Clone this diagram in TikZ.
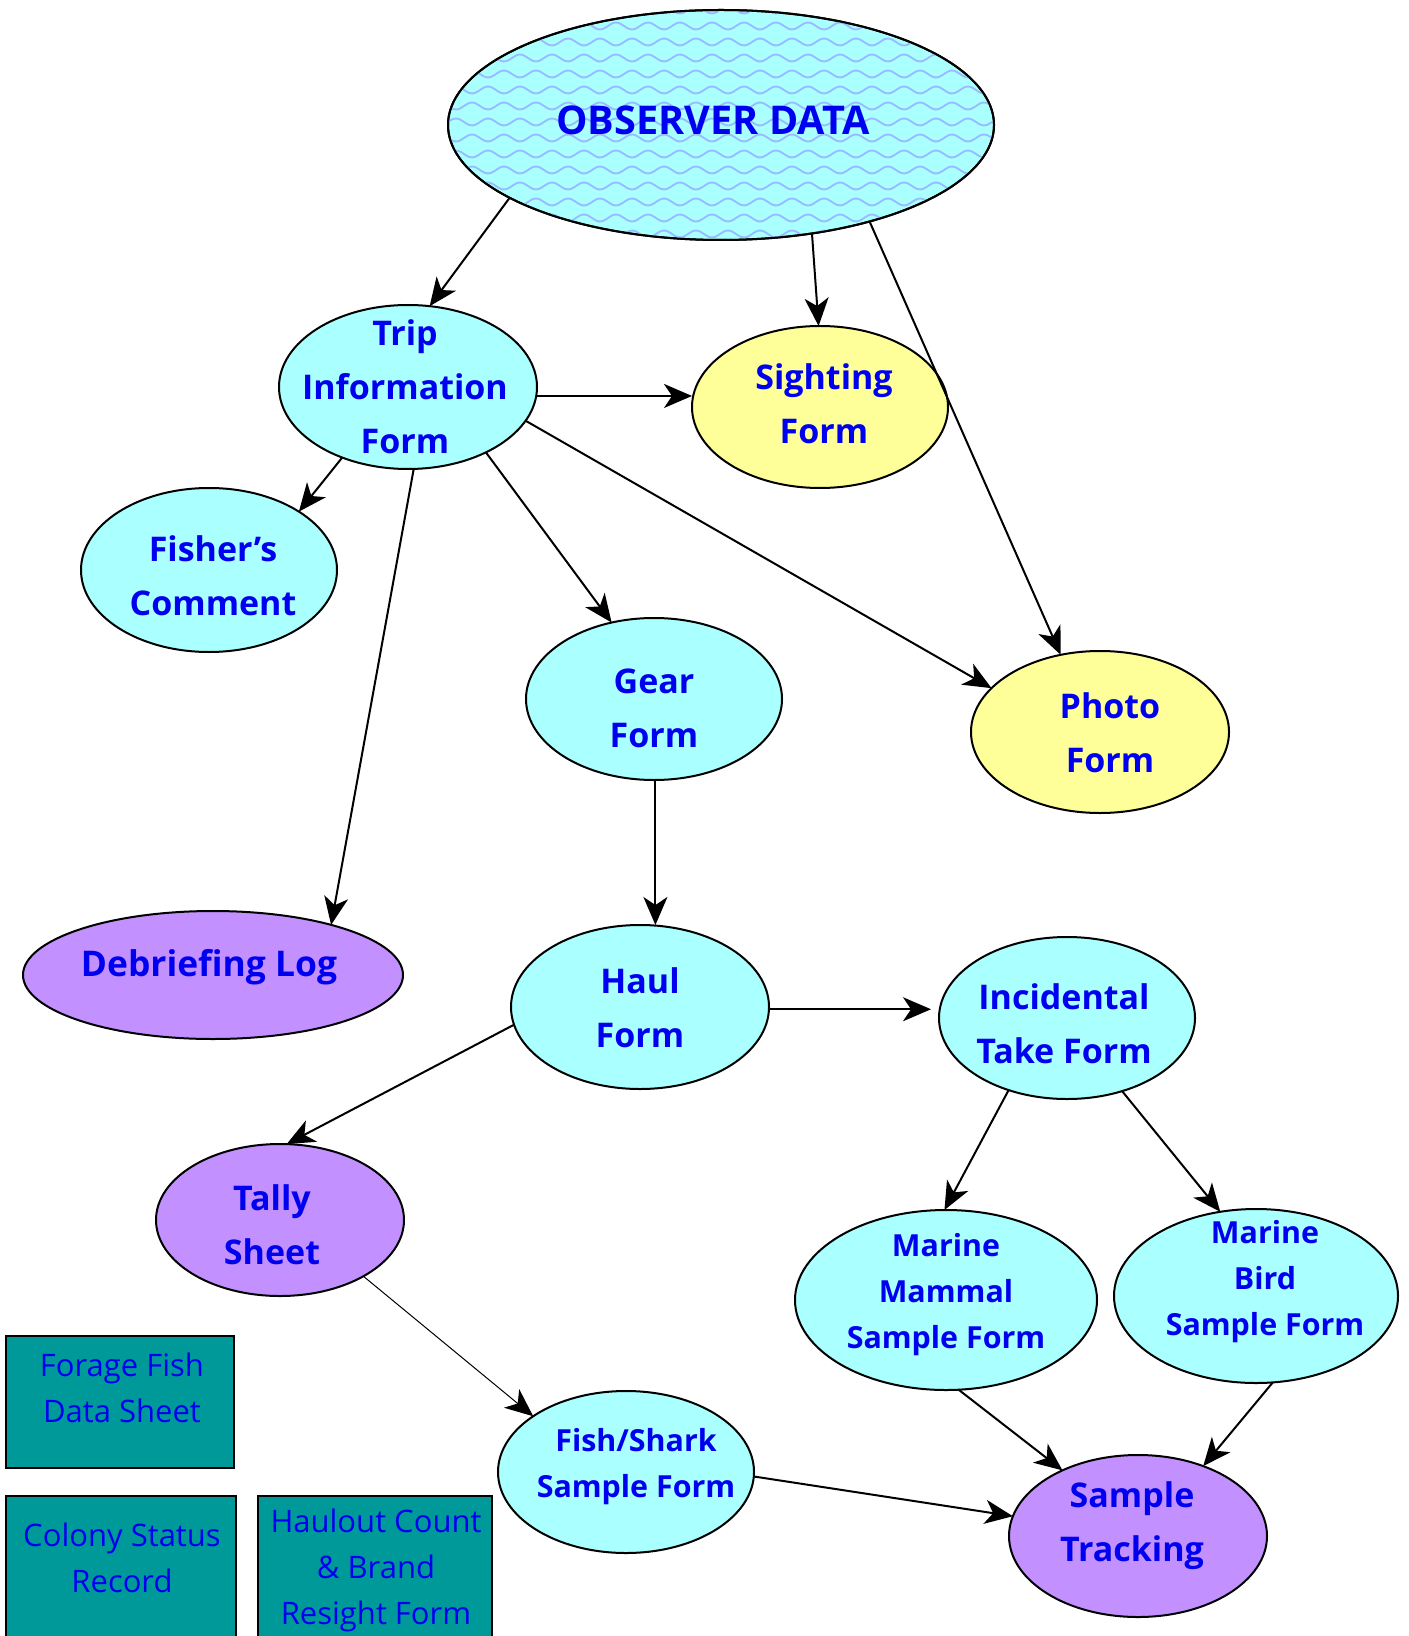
\documentclass[tikz,border=0pt]{standalone}
\usepackage{fontspec}
\setmainfont{Open Sans}
\usetikzlibrary{arrows.meta,shapes.geometric,calc}
\definecolor{txtblue}{RGB}{0,0,240}
\definecolor{cyanfill}{RGB}{170,255,255}
\definecolor{yelfill}{RGB}{255,255,153}
\definecolor{purfill}{RGB}{195,145,255}
\definecolor{tealfill}{RGB}{0,153,153}
\definecolor{wavecol}{RGB}{155,185,255}
\begin{document}
\begin{tikzpicture}[x=0.5pt,y=-0.5pt,
  oval/.style={ellipse, draw=black, line width=1pt, inner sep=0pt, outer sep=0pt},
  cy/.style={oval, fill=cyanfill},
  ye/.style={oval, fill=yelfill},
  pu/.style={oval, fill=purfill},
  lbl/.style={text=txtblue, font=\bfseries\fontsize{17}{27}\selectfont, align=center, inner sep=0pt},
  slbl/.style={lbl, font=\bfseries\fontsize{15.2}{23}\selectfont},
  boxlbl/.style={text=txtblue, font=\fontsize{15.5}{23}\selectfont, align=center, inner sep=0pt},
  card/.style={draw=black, line width=1.2pt, fill=tealfill, inner sep=0pt, outer sep=0pt, anchor=north west},
  conn/.style={line width=1pt, -{Stealth[length=14pt,width=12pt,inset=4pt]}},
  thinconn/.style={line width=0.5pt, -{Stealth[length=14pt,width=12pt,inset=4pt]}},
]
\fill[white] (0,0) rectangle (1408,1636);
\useasboundingbox (0,0) rectangle (1408,1636);

% main node
\node[cy, minimum width=273pt, minimum height=115pt] (obs) at (721,125) {};
\begin{scope}
  \clip (721,125) ellipse [x radius=273, y radius=115];
  \foreach \k in {0,...,15} {
    \pgfmathsetmacro\yy{10+\k*16}
    \pgfmathsetmacro\ph{mod(\k,2)*180}
    \draw[wavecol, line width=0.9pt] plot[domain=448:995, samples=200, smooth] (\x, {\yy + 3.5*sin(\x*11.25+\ph)});
  }
\end{scope}
\draw[line width=1pt] (obs.center) ellipse [x radius=273, y radius=115];
\node[lbl, font=\bfseries\fontsize{19.8}{27}\selectfont] (obsT) at (713,120) {OBSERVER DATA};

% ellipses
\node[cy, minimum width=129pt, minimum height=82pt] (trip) at (408,387) {};
\node[ye, minimum width=128pt, minimum height=81pt] (sight) at (820,407) {};
\node[cy, minimum width=128pt, minimum height=82pt] (fisher) at (209,570) {};
\node[cy, minimum width=128pt, minimum height=81pt] (gear) at (654,699) {};
\node[ye, minimum width=129pt, minimum height=81pt] (photo) at (1100,732) {};
\node[pu, minimum width=190pt, minimum height=64pt] (debrief) at (213,975) {};
\node[cy, minimum width=129pt, minimum height=82pt] (haul) at (640,1007) {};
\node[cy, minimum width=128pt, minimum height=81pt] (inc) at (1067,1018) {};
\node[pu, minimum width=124pt, minimum height=76pt] (tally) at (280,1220) {};
\node[cy, minimum width=151pt, minimum height=90pt] (mammal) at (946,1300) {};
\node[cy, minimum width=142pt, minimum height=87pt] (bird) at (1256,1296) {};
\node[cy, minimum width=128pt, minimum height=81pt] (fish) at (626,1472) {};
\node[pu, minimum width=129pt, minimum height=81pt] (track) at (1138,1536) {};

% labels
\node[lbl] (tripT) at (405,387) {Trip\\Information\\Form};
\node[lbl] (sightT) at (824,404) {Sighting\\Form};
\node[lbl] (fisherT) at (213,576) {Fisher’s\\Comment};
\node[lbl] (gearT) at (654,708) {Gear\\Form};
\node[lbl] (photoT) at (1110,733) {Photo\\Form};
\node[lbl, font=\bfseries\fontsize{17.7}{27}\selectfont] (debriefT) at (209,967) {Debriefing Log};
\node[lbl] (haulT) at (640,1008) {Haul\\Form};
\node[lbl] (incT) at (1064,1024) {Incidental\\Take Form};
\node[lbl] (tallyT) at (272,1225) {Tally\\Sheet};
\node[slbl] (mammalT) at (946,1295) {Marine\\Mammal\\Sample Form};
\node[slbl] (birdT) at (1265,1282) {Marine\\Bird\\Sample Form};
\node[slbl] (fishT) at (636,1467) {Fish/Shark\\Sample Form};
\node[lbl] (trackT) at (1132,1526) {Sample\\Tracking};

% boxes
\node[card, minimum width=114pt, minimum height=66pt] (forage) at (6,1336) {};
\node[boxlbl] (forageT) at (122,1388) {Forage Fish\\Data Sheet};
\node[card, minimum width=115pt, minimum height=73pt] (colony) at (6,1496) {};
\node[boxlbl] (colonyT) at (122,1558) {Colony Status\\Record};
\node[card, minimum width=117pt, minimum height=73pt] (haulout) at (258,1496) {};
\node[boxlbl] (hauloutT) at (376,1570) {Haulout Count\\\& Brand\\Resight Form};

% connectors
\draw[conn] (obs.199) -- (trip.75);
\draw[conn] (obs.-50) -- (sight.91);
\draw[conn] (obs.-33) -- (photo.117);
\draw[conn] (trip.-4) -- (trip.-4 -| sight.west);
\draw[conn] (trip.-133) -- (fisher.33);
\draw[conn] (trip.-40) -- (gear.119);
\draw[conn] (trip.-16) -- (photo.158);
\draw[conn] (trip.-86) -- (debrief.23);
\draw[conn] (gear.-89) -- (gear.-89 |- haul.north);
\draw[conn] (haul.-1) -- ($(haul.-1 -| inc.west)+(-8,0)$);
\draw[conn] (haul.188) -- (tally.85);
\draw[conn] (inc.231) -- (mammal.91);
\draw[conn] (inc.-53) -- (bird.113);
\draw[thinconn] (tally.-34) -- (fish.149);
\draw[conn] (fish.-2) -- (track.171);
\draw[conn] (mammal.-82) -- (track.139);
\draw[conn] (bird.-79) -- (track.47);
\end{tikzpicture}
\end{document}
